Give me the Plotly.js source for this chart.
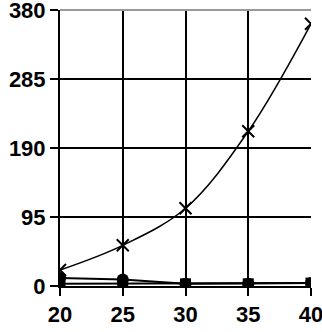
<!DOCTYPE html>
<html><head><meta charset="utf-8">
<script src="https://cdn.plot.ly/plotly-3.0.1.min.js"></script>
<style>html,body{margin:0;padding:0;background:#fff}#c{width:322px;height:332px}</style>
</head><body><div id="c"></div>
<script>
const xCats = [20, 25, 30, 35, 40];
const crossVals = [22, 56, 107, 213, 361];
const circleVals = [11, 9, 3, 3, 4];
const squareVals = [3, 3, 3, 3, 4];
const yTicks = [0, 95, 190, 285, 380];

const traces = [
  {x: xCats, y: squareVals, mode: 'lines+markers', line: {color: '#000', width: 2},
   marker: {symbol: 'square', size: 11, color: '#000'}},
  {x: xCats, y: circleVals, mode: 'lines+markers', line: {color: '#000', width: 2},
   marker: {symbol: 'circle', size: 12, color: '#000'}},
  {x: xCats, y: crossVals, mode: 'lines+markers', line: {color: '#000', width: 1.5, shape: 'spline'},
   marker: {symbol: 'x-thin', size: 12, line: {color: '#000', width: 2}}}
];
const tf = {family: 'Liberation Sans, Arial, sans-serif', size: 22, color: '#000', weight: 'bold'};
const layout = {
  width: 322, height: 332, showlegend: false,
  margin: {l: 60, r: 11, t: 10, b: 46},
  paper_bgcolor: '#fff', plot_bgcolor: '#fff',
  font: {family: 'Liberation Sans, Arial, sans-serif', size: 22, color: '#000'},
  xaxis: {range: [20, 40], tickvals: xCats, ticktext: xCats.map(String),
    showgrid: true, gridcolor: '#000', gridwidth: 2, zeroline: false,
    showline: true, linecolor: '#000', linewidth: 2,
    ticks: 'outside', ticklen: 8, tickwidth: 2, tickcolor: '#000',
    ticklabeloverflow: 'allow', tickfont: tf},
  yaxis: {range: [0, 380], tickvals: yTicks, ticktext: yTicks.map(String),
    showgrid: true, gridcolor: '#000', gridwidth: 2, zeroline: false,
    showline: true, linecolor: '#000', linewidth: 2,
    ticks: 'outside', ticklen: 8, tickwidth: 2, tickcolor: '#000',
    ticklabeloverflow: 'allow', tickfont: tf},
  shapes: [{type: 'line', xref: 'paper', yref: 'paper', x0: 0, x1: 1, y0: 1, y1: 1,
    line: {color: '#999', width: 2}}]
};
Plotly.newPlot('c', traces, layout, {displayModeBar: false, staticPlot: true});
</script></body></html>
